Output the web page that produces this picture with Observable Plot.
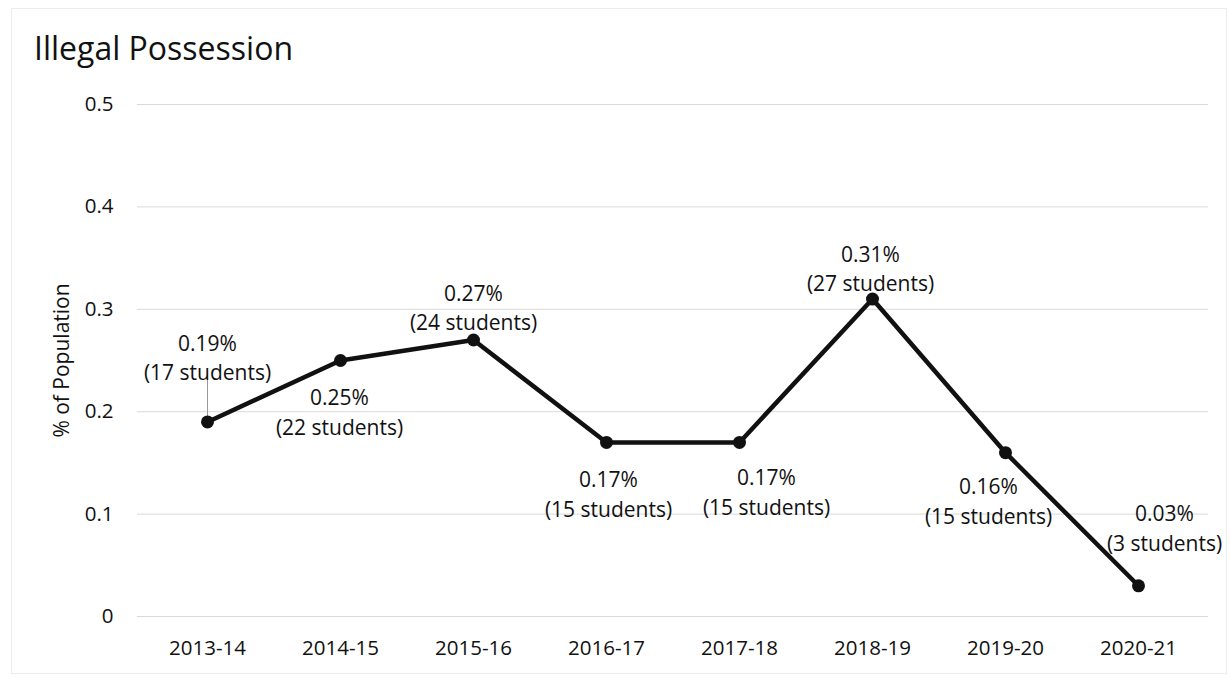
<!DOCTYPE html>
<html>
<head>
<meta charset="utf-8">
<script src="https://cdn.jsdelivr.net/npm/d3@7"></script>
<script src="https://cdn.jsdelivr.net/npm/@observablehq/plot@0.6"></script>
<style>
  html, body { margin: 0; padding: 0; background: #fff; }
  #wrap { position: relative; width: 1230px; height: 677px; overflow: hidden; font-family: "Open Sans", sans-serif; color: #111; }
  #frame { position: absolute; left: 11px; top: 8px; width: 1216px; height: 666px; border: 1px solid #ececec; box-sizing: border-box; pointer-events: none; }
  #title { position: absolute; left: 34px; top: 32px; font-size: 32px; line-height: 32px; white-space: nowrap; }
  #chart { position: absolute; left: 0; top: 70px; }
</style>
</head>
<body>
<div id="wrap">
  <div id="frame"></div>
  <div id="title"></div>
  <div id="chart"></div>
</div>
<script>
// ---- data ----
const titleText = "Illegal Possession";
const yAxisLabel = "% of Population";
const categories = ["2013-14", "2014-15", "2015-16", "2016-17", "2017-18", "2018-19", "2019-20", "2020-21"];
const percents = [0.19, 0.25, 0.27, 0.17, 0.17, 0.31, 0.16, 0.03];
const students = [17, 22, 24, 15, 15, 27, 15, 3];
const yTicks = [0, 0.1, 0.2, 0.3, 0.4, 0.5];

// ---- build ----
document.getElementById("title").textContent = titleText;

const data = categories.map((c, i) => ({ cat: c, pct: percents[i], n: students[i] }));
const labelText = d => `${d.pct.toFixed(2)}%\n(${d.n} student${d.n === 1 ? "" : "s"})`;

// label placement relative to each point (dx, dy in px)
const labelOffsets = [[0, -66], [-1, 50], [0, -34], [2, 50], [27, 48], [-2, -32], [-17, 47], [26, -59]];

const labelMarks = data.map((d, i) => Plot.text([d], {
  x: "cat", y: "pct", text: labelText,
  dx: labelOffsets[i][0], dy: labelOffsets[i][1],
  lineAnchor: "middle", lineHeight: 1.4, fontSize: 21, fill: "#111"
}));

const chart = Plot.plot({
  width: 1230,
  height: 607,
  marginLeft: 137,
  marginRight: 22,
  marginTop: 34,
  marginBottom: 61,
  style: { fontFamily: "Open Sans, sans-serif", fontSize: "20px", color: "#111", background: "transparent" },
  x: { type: "point", domain: categories, padding: 0.5 },
  y: { domain: [0, 0.5] },
  marks: [
    Plot.gridY(yTicks, { stroke: "#d9d9d9", strokeOpacity: 1, strokeWidth: 1 }),
    Plot.axisY({ ticks: yTicks, tickSize: 0, tickPadding: 24, tickFormat: d => d === 0 ? "0" : String(d), label: null, fontSize: 20.5 }),
    Plot.axisX({ tickSize: 0, tickPadding: 24, label: null, fontSize: 20.5 }),
    Plot.text([yAxisLabel], { text: d => d, frameAnchor: "left", textAnchor: "middle", rotate: -90, dx: -75, fontSize: 21, fill: "#111" }),
    Plot.ruleX([data[0]], { x: "cat", y1: "pct", y2: d => d.pct + 0.03, insetTop: 1.5, insetBottom: 16, stroke: "#9a9a9a", strokeWidth: 1 }),
    Plot.line(data, { x: "cat", y: "pct", stroke: "#111", strokeWidth: 4.5, strokeLinejoin: "round" }),
    Plot.dot(data, { x: "cat", y: "pct", r: 6.5, fill: "#111", stroke: "none" }),
    ...labelMarks
  ]
});
document.getElementById("chart").appendChild(chart);
</script>
</body>
</html>
